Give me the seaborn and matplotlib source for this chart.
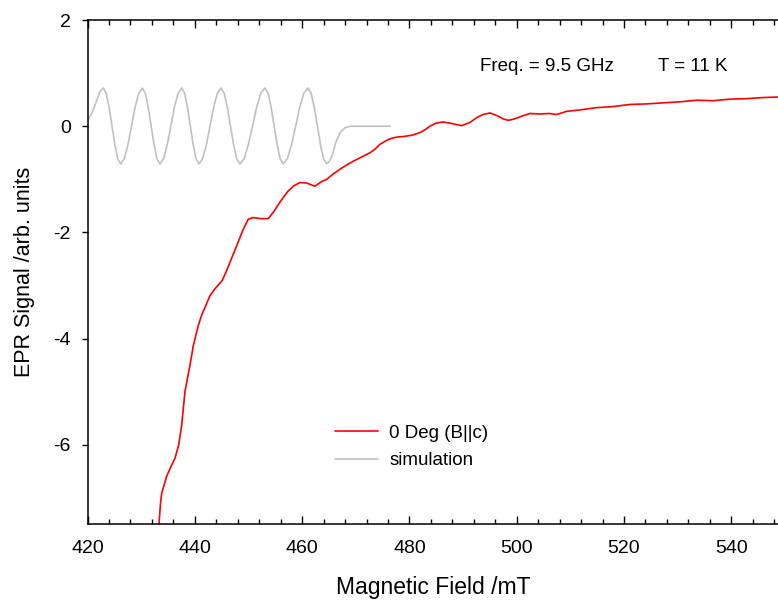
import matplotlib
matplotlib.use("Agg")
import matplotlib.pyplot as plt
from matplotlib.ticker import MultipleLocator
import seaborn as sns
import pandas as pd

# ---- data ----
exp_field = [433.2, 433.32, 433.60, 433.83, 434.76, 435.5, 436.31, 437.0, 437.55, 438.17, 439.10,
             439.72, 440.65, 441.30, 441.90, 442.83, 443.76, 445.07, 445.8, 446.56, 447.81,
             449.03, 449.97, 450.90, 452.15, 453.69, 454.63, 455.6, 456.49, 457.4, 458.35,
             459.60, 460.85, 462.40, 463.5, 464.58, 465.8, 467.06, 468.3, 469.53, 471.1,
             472.65, 473.6, 474.51, 476.06, 477.31, 479.17, 480.48, 481.97, 483.0, 483.83,
             485.0, 486.31, 487.93, 489.74, 491.28, 492.53, 493.70, 495.01, 496.31, 497.43,
             498.42, 499.67, 500.97, 502.46, 504.33, 506.0, 507.44, 509.30, 512.0, 514.89,
             518.0, 521.10, 524.2, 527.31, 530.5, 533.53, 536.6, 539.73, 543.0, 546.0, 548.7]
exp_signal = [-7.65, -7.50, -7.10, -6.91, -6.59, -6.42, -6.25, -6.00, -5.63, -4.99, -4.50,
              -4.13, -3.75, -3.55, -3.41, -3.19, -3.06, -2.91, -2.75, -2.56, -2.25,
              -1.94, -1.75, -1.72, -1.74, -1.74, -1.62, -1.47, -1.34, -1.22, -1.13,
              -1.06, -1.07, -1.13, -1.05, -1.00, -0.90, -0.81, -0.73, -0.66, -0.58,
              -0.50, -0.43, -0.34, -0.25, -0.21, -0.19, -0.17, -0.12, -0.06, 0.00,
              0.06, 0.08, 0.05, 0.01, 0.07, 0.16, 0.22, 0.25, 0.20, 0.14,
              0.11, 0.14, 0.19, 0.24, 0.23, 0.24, 0.22, 0.28, 0.31, 0.35,
              0.37, 0.41, 0.42, 0.44, 0.46, 0.49, 0.48, 0.51, 0.52, 0.54, 0.55]

sim_field = [420.0, 420.8, 421.6, 422.3, 422.94,
             423.48, 424.02, 424.57, 425.11, 425.65, 426.19,
             426.86, 427.53, 428.20, 428.87, 429.54, 430.21,
             430.76, 431.31, 431.86, 432.41, 432.96, 433.51,
             434.18, 434.86, 435.53, 436.20, 436.88, 437.55,
             438.09, 438.63, 439.17, 439.70, 440.24, 440.78,
             441.46, 442.15, 442.83, 443.51, 444.20, 444.88,
             445.47, 446.06, 446.65, 447.24, 447.83, 448.42,
             449.20, 449.97, 450.75, 451.53, 452.30, 453.08,
             453.65, 454.22, 454.79, 455.35, 455.92, 456.49,
             457.26, 458.02, 458.79, 459.56, 460.32, 461.09,
             461.68, 462.26, 462.85, 463.43, 464.02, 464.60,
             465.10, 465.60, 466.30, 467.10, 468.00, 469.00, 476.40]
sim_signal = [0.10, 0.25, 0.45, 0.65, 0.72,
              0.62, 0.36, 0.00, -0.35, -0.62, -0.71,
              -0.61, -0.35, 0.00, 0.36, 0.62, 0.72,
              0.62, 0.36, 0.00, -0.35, -0.62, -0.71,
              -0.61, -0.35, 0.00, 0.36, 0.62, 0.72,
              0.62, 0.36, 0.00, -0.35, -0.62, -0.71,
              -0.61, -0.35, 0.00, 0.36, 0.62, 0.72,
              0.62, 0.36, 0.00, -0.35, -0.62, -0.71,
              -0.61, -0.35, 0.00, 0.36, 0.62, 0.72,
              0.62, 0.36, 0.00, -0.35, -0.62, -0.71,
              -0.61, -0.35, 0.00, 0.36, 0.62, 0.72,
              0.62, 0.36, 0.00, -0.35, -0.62, -0.71,
              -0.66, -0.55, -0.30, -0.12, -0.03, 0.00, 0.00]

series_labels = ["0 Deg (B||c)", "simulation"]
x_ticks = [420, 440, 460, 480, 500, 520, 540]
y_ticks = [-6, -4, -2, 0, 2]

# ---- plot ----
sns.set_style("ticks")
plt.rcParams['font.family'] = ['Liberation Sans', 'DejaVu Sans']
plt.rcParams['axes.unicode_minus'] = False
plt.rcParams['text.color'] = 'black'
plt.rcParams['axes.labelcolor'] = 'black'
plt.rcParams['xtick.color'] = 'black'
plt.rcParams['ytick.color'] = 'black'

fig = plt.figure(figsize=(7.78, 6.01), dpi=100)
ax = fig.add_axes([0.1125, 0.1273, 0.8875, 0.8394])

df_exp = pd.DataFrame({"field": exp_field, "signal": exp_signal})
df_sim = pd.DataFrame({"field": sim_field, "signal": sim_signal})

sns.lineplot(data=df_exp, x="field", y="signal", ax=ax, color="#ff0000",
             linewidth=1.2, label=series_labels[0], sort=False, estimator=None)
sns.lineplot(data=df_sim, x="field", y="signal", ax=ax, color="#c0c0c0",
             linewidth=1.2, label=series_labels[1], sort=False, estimator=None)

ax.set_xlim(420, 548.7)
ax.set_ylim(-7.5, 2)
ax.set_xticks(x_ticks)
ax.set_yticks(y_ticks)
ax.xaxis.set_minor_locator(MultipleLocator(4))

for s in ["left", "bottom", "top"]:
    ax.spines[s].set_visible(True)
    ax.spines[s].set_linewidth(1.1)
    ax.spines[s].set_color("black")
ax.spines["right"].set_visible(False)

ax.tick_params(axis="x", which="both", direction="in", top=True, bottom=True,
               labelsize=14, pad=11, color="black", labelcolor="black", width=1)
ax.tick_params(axis="x", which="major", length=6)
ax.tick_params(axis="x", which="minor", length=3.5)
ax.tick_params(axis="y", which="major", direction="out", length=4, width=1,
               labelsize=14, pad=8, color="black", labelcolor="black")

ax.set_xlabel("Magnetic Field /mT", fontsize=16.5, labelpad=14, color="black")
ax.set_ylabel("EPR Signal /arb. units", fontsize=15.5, labelpad=13, color="black")

ax.text(493.1, 1.12, "Freq. = 9.5 GHz", fontsize=13.5, va="center", ha="left", color="black")
ax.text(526.3, 1.12, "T = 11 K", fontsize=13.5, va="center", ha="left", color="black")

leg = ax.legend(loc="upper left", bbox_to_anchor=(0.358, 0.198), frameon=False,
                fontsize=13.5, handlelength=2.3, handletextpad=0.6,
                borderpad=0, borderaxespad=0, labelspacing=0.55)
for t in leg.get_texts():
    t.set_color("black")

fig.savefig("out.png", dpi=100)
